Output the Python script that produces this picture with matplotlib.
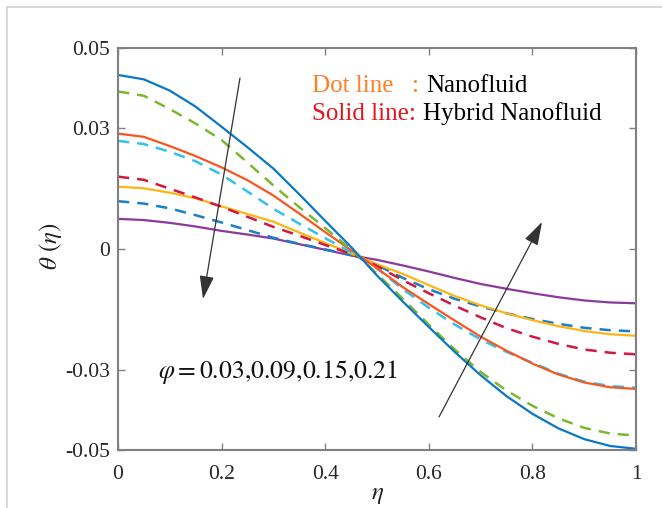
import matplotlib
matplotlib.use("Agg")
import matplotlib.pyplot as plt

plt.rcParams['font.family'] = ['Liberation Serif', 'DejaVu Serif']
plt.rcParams['mathtext.fontset'] = 'stix'

# ---- data ----
eta = [0, .05, .1, .15, .2, .25, .3, .35, .4, .45, .5, .55, .6, .65, .7, .75, .8, .85, .9, .95, 1]

# Hybrid nanofluid (solid lines)
hyb_blue   = [.0433, .0422, .0394, .0354, .0304, .0253, .0200, .0136, .0070, .0005, -.0066, -.0131, -.0194, -.0256, -.0314, -.0366, -.0410, -.0446, -.0473, -.0490, -.0497]
hyb_orange = [.0287, .0279, .0256, .0231, .0203, .0171, .0133, .0088, .0042, -.0003, -.0048, -.0095, -.0137, -.0178, -.0218, -.0253, -.0285, -.0312, -.0332, -.0344, -.0348]
hyb_yellow = [.0155, .0151, .0140, .0126, .0106, .0087, .0068, .0041, .0015, -.0011, -.0038, -.0062, -.0090, -.0117, -.0140, -.0160, -.0177, -.0192, -.0204, -.0212, -.0216]
hyb_purple = [.0075, .0072, .0065, .0056, .0045, .0036, .0026, .0012, -.0002, -.0016, -.0027, -.0041, -.0056, -.0072, -.0087, -.0099, -.0110, -.0120, -.0128, -.0133, -.0135]

# Nanofluid (dashed lines)
nano_green = [.0392, .0381, .0348, .0312, .0271, .0215, .0158, .0104, .0052, -.0001, -.0062, -.0124, -.0188, -.0250, -.0306, -.0352, -.0390, -.0421, -.0445, -.0459, -.0464]
nano_cyan  = [.0269, .0261, .0242, .0218, .0185, .0143, .0100, .0063, .0027, -.0008, -.0048, -.0100, -.0146, -.0188, -.0225, -.0256, -.0283, -.0310, -.0330, -.0341, -.0345]
nano_red   = [.0180, .0172, .0150, .0128, .0105, .0080, .0055, .0033, .0010, -.0012, -.0042, -.0078, -.0110, -.0141, -.0170, -.0197, -.0218, -.0236, -.0250, -.0258, -.0262]
nano_blue  = [.0119, .0113, .0101, .0084, .0066, .0047, .0028, .0013, -.0001, -.0015, -.0040, -.0072, -.0100, -.0124, -.0143, -.0160, -.0174, -.0186, -.0196, -.0202, -.0205]

xticks = [0, 0.2, 0.4, 0.6, 0.8, 1]
xticklabels = ['0', '0.2', '0.4', '0.6', '0.8', '1']
yticks = [-0.05, -0.03, 0, 0.03, 0.05]
yticklabels = ['-0.05', '-0.03', '0', '0.03', '0.05']
phi_text = r'$\varphi = 0.03{,}0.09{,}0.15{,}0.21$'

W, H = 662, 508
fig = plt.figure(figsize=(W / 100, H / 100), dpi=100)

def fx(px):
    return px / W

def fy(py):
    return 1 - py / H

# light grey outer frame
fig.add_artist(plt.Line2D([fx(7), fx(7)], [fy(7), 0], color='#d4d4d4', lw=1.3))
fig.add_artist(plt.Line2D([fx(7), 1], [fy(7), fy(7)], color='#d4d4d4', lw=1.3))

ax = fig.add_axes([fx(118), fy(450), fx(636) - fx(118), fy(48) - fy(450)])

solid_kw = dict(lw=1.6, solid_capstyle='butt', solid_joinstyle='round')
dash_kw = dict(lw=1.8, dashes=(4.5, 3.2))

ax.plot(eta, hyb_purple, color='#8B3A9C', **solid_kw)
ax.plot(eta, nano_blue, color='#1A7EC8', **dash_kw)
ax.plot(eta, hyb_yellow, color='#FDB515', **solid_kw)
ax.plot(eta, nano_red, color='#D3173F', **dash_kw)
ax.plot(eta, nano_cyan, color='#33C0EE', **dash_kw)
ax.plot(eta, hyb_orange, color='#F9561F', **solid_kw)
ax.plot(eta, nano_green, color='#7CB82F', **dash_kw)
ax.plot(eta, hyb_blue, color='#0A78C2', **solid_kw)

ax.set_xlim(0, 1)
ax.set_ylim(-0.05, 0.05)
ax.set_xticks(xticks)
ax.set_xticklabels(xticklabels)
ax.set_yticks(yticks)
ax.set_yticklabels(yticklabels)
ax.tick_params(direction='in', top=True, right=True, length=5, width=1.0,
               color='#808080', labelsize=15.5, labelcolor='#262626')
ax.tick_params(axis='y', pad=6)
ax.tick_params(axis='x', pad=11)
for s in ax.spines.values():
    s.set_color('#808080')
    s.set_linewidth(1.5)

# arrows
def px2data(px, py):
    return ((px - 118) / 518, 0.05 - (py - 48) / 4020)

arrow_kw = dict(arrowstyle='-|>,head_length=0.9,head_width=0.28', color='#333333',
                lw=0.9, mutation_scale=16, shrinkA=0, shrinkB=0)
ax.annotate('', xy=px2data(203, 299), xytext=px2data(240, 78), arrowprops=arrow_kw)
ax.annotate('', xy=px2data(542, 222), xytext=px2data(439, 417), arrowprops=arrow_kw)

# texts
fig.text(fx(158), fy(378), phi_text, fontsize=18.5, ha='left', va='baseline', color='#111111')
fig.text(fx(312), fy(92), 'Dot line', fontsize=18, color='#FF7F27', ha='left', va='baseline')
fig.text(fx(412), fy(92), ':', fontsize=18, color='#FF7F27', ha='left', va='baseline')
fig.text(fx(426), fy(92), 'Nanofluid', fontsize=18, color='black', ha='left', va='baseline')
fig.text(fx(312), fy(120), 'Solid line:', fontsize=18, color='#E8141C', ha='left', va='baseline')
fig.text(fx(423), fy(120), 'Hybrid Nanofluid', fontsize=18, color='black', ha='left', va='baseline')

fig.text(fx(50), fy(246), r'$\theta\ (\eta)$', fontsize=18, rotation=90, ha='center', va='center', color='#222222')
fig.text(fx(378), fy(506), r'$\eta$', fontsize=18, ha='center', va='bottom', color='#222222')

fig.savefig('out.png', dpi=100)
